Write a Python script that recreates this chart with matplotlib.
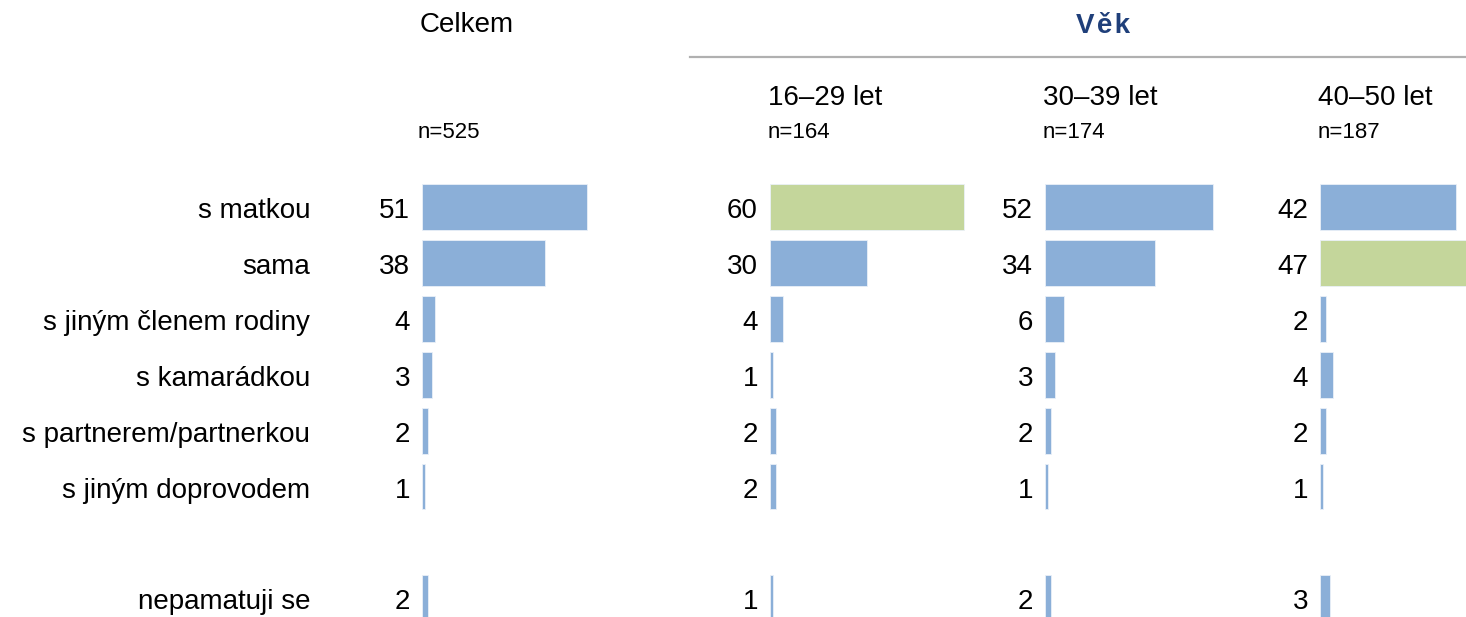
import matplotlib
matplotlib.use("Agg")
import matplotlib.pyplot as plt

plt.rcParams['font.family'] = ['Liberation Sans', 'DejaVu Sans']

categories = ["s matkou", "sama", "s jiným členem rodiny", "s kamarádkou",
              "s partnerem/partnerkou", "s jiným doprovodem", "nepamatuji se"]
row_pos = [0, 1, 2, 3, 4, 5, 7]

groups = ["Celkem", "16–29 let", "30–39 let", "40–50 let"]
group_n = ["n=525", "n=164", "n=174", "n=187"]
celkem = [51, 38, 4, 3, 2, 1, 2]
age_16_29 = [60, 30, 4, 1, 2, 2, 1]
age_30_39 = [52, 34, 6, 3, 2, 1, 2]
age_40_50 = [42, 47, 2, 4, 2, 1, 3]
series = [celkem, age_16_29, age_30_39, age_40_50]
# highlighted (significantly higher) cells: (group index, row index)
highlight = [(1, 0), (3, 1)]

BLUE = "#8BAFD8"
GREEN = "#C4D69B"

W, H = 1466, 617
fig = plt.figure(figsize=(W / 100, H / 100), dpi=100)

panel_left = [422, 770, 1045, 1320]
px_per_unit = 3.23
top_px, bot_px = 180, 617
row_px = 55.9
first_center = 207

y_top = -(first_center - top_px) / row_px
y_bot = (bot_px - first_center) / row_px

fs = 20
fs_n = 16
for gi, vals in enumerate(series):
    left = panel_left[gi]
    width_px = 60 * px_per_unit + 20
    ax = fig.add_axes([left / W, 1 - bot_px / H, width_px / W, (bot_px - top_px) / H])
    ax.set_xlim(0, width_px / px_per_unit)
    ax.set_ylim(y_bot, y_top)
    ax.axis("off")
    colors = [GREEN if (gi, ri) in highlight else BLUE for ri in range(len(vals))]
    ax.barh(row_pos, vals, height=0.82, color=colors, edgecolor="#EAF0F8",
            linewidth=0.6, clip_on=False)
    for ri, v in enumerate(vals):
        ax.annotate(str(v), xy=(0, row_pos[ri]), xytext=(-12, -4),
                    textcoords="offset pixels", ha="right", va="center",
                    fontsize=fs, color="black")
    if gi == 0:
        for ri, c in enumerate(categories):
            ax.annotate(c, xy=(0, row_pos[ri]), xytext=(310 - left, -4),
                        textcoords="offset pixels", ha="right", va="center",
                        fontsize=fs, color="black")

# headers
fig.text(420 / W, 1 - 25 / H, groups[0], ha="left", va="center", fontsize=fs)
fig.text(418 / W, 1 - 132 / H, group_n[0], ha="left", va="center", fontsize=fs_n)
for gi in range(1, 4):
    x = (panel_left[gi] - 2) / W
    fig.text(x, 1 - 98 / H, groups[gi], ha="left", va="center", fontsize=fs)
    fig.text(x, 1 - 132 / H, group_n[gi], ha="left", va="center", fontsize=fs_n)

fig.text(1103 / W, 1 - 26 / H, "V\u200aě\u200ak", ha="center", va="center",
         fontsize=20, fontweight="bold", color="#1F3F7A")
fig.add_artist(plt.Line2D([690 / W, 1], [1 - 57 / H, 1 - 57 / H],
                          color="#B0B0B0", linewidth=1.6))

fig.savefig("out.png", dpi=100)
